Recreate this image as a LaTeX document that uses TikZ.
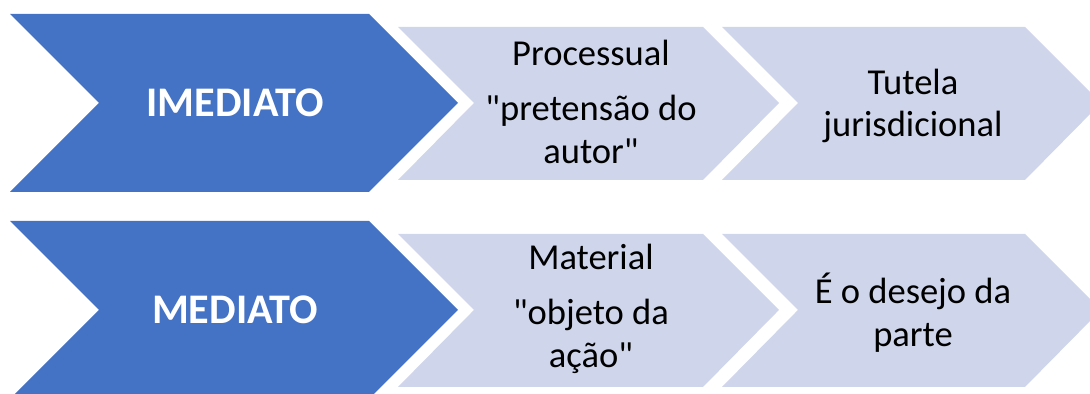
\documentclass[tikz,border=0pt]{standalone}
\usepackage{fontspec}
\setmainfont{Carlito}
\usepackage{xcolor}
\usepackage{tikz}
\definecolor{darkchev}{HTML}{4472C4}
\definecolor{lightchev}{HTML}{CFD5EA}

\begin{document}
\begin{tikzpicture}[x=0.02cm,y=-0.02cm,
  dark/.style={fill=darkchev},
  light/.style={fill=lightchev},
  bigtext/.style={text=white,inner sep=0pt,font=\fontsize{24}{30}\selectfont\bfseries},
  smalltext/.style={text=black,inner sep=0pt,align=center,font=\fontsize{20.8}{24.4}\selectfont}]

\clip (0,0) rectangle (1090,394);

%% first row

%% chevrons
\fill[dark] (10,14) -- (369,14) -- (458,103) -- (369,192) -- (10,192) -- (99,103) -- cycle;
\fill[light] (398,27) -- (703,27) -- (779,103) -- (703,180) -- (398,180) -- (474,103) -- cycle;
\fill[light] (722,27) -- (1025,27) -- (1101,103) -- (1025,180) -- (722,180) -- (798,103) -- cycle;

%% texts
\node[bigtext] (imediato) at (235,103) {IMEDIATO};
\node[smalltext] (processual) at (591,102) {Processual\\[6.8pt]\textquotedbl pretensão do\\autor\textquotedbl};
\node[smalltext] (tutela) at (913,106) {Tutela\\jurisdicional};

%% second row

\begin{scope}[yshift=-4.14cm]

%% chevrons
\fill[dark] (10,14) -- (369,14) -- (458,103) -- (369,192) -- (10,192) -- (99,103) -- cycle;
\fill[light] (398,27) -- (703,27) -- (779,103) -- (703,180) -- (398,180) -- (474,103) -- cycle;
\fill[light] (722,27) -- (1025,27) -- (1101,103) -- (1025,180) -- (722,180) -- (798,103) -- cycle;

%% texts
\node[bigtext] (mediato) at (235,103) {MEDIATO};
\node[smalltext] (material) at (591,102) {Material\\[6.8pt]\textquotedbl objeto da\\ação\textquotedbl};
\node[smalltext] (desejo) at (913,106) {É o desejo da\\parte};
\end{scope}

\end{tikzpicture}
\end{document}
